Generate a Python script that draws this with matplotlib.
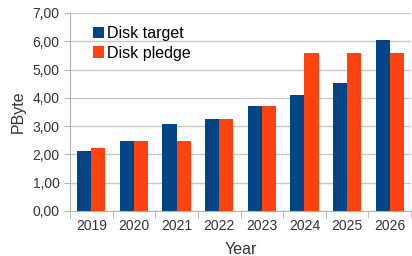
import matplotlib.pyplot as plt
import numpy as np

years = ["2019", "2020", "2021", "2022", "2023", "2024", "2025", "2026"]
disk_target = [2.12, 2.49, 3.06, 3.24, 3.72, 4.10, 4.54, 6.04]
disk_pledge = [2.23, 2.49, 2.49, 3.24, 3.72, 5.60, 5.60, 5.60]

plt.rcParams['font.family'] = ['Liberation Sans', 'DejaVu Sans']

fig = plt.figure(figsize=(4.12, 2.56), dpi=100)
ax = fig.add_axes([70/412, 1-211/256, 341/412, 198/256])

x = np.arange(len(years))
w = 0.33
ax.bar(x - w/2, disk_target, w, color='#004586', label='Disk target', zorder=2)
ax.bar(x + w/2, disk_pledge, w, color='#ff420e', label='Disk pledge', zorder=2)

ax.set_xlim(-0.5, len(years) - 0.5)
ax.set_ylim(0, 7)
ax.set_yticks(np.arange(0, 8, 1))
ax.set_yticklabels([f"{v:.2f}".replace('.', ',') for v in range(8)])
ax.set_xticks(x)
ax.set_xticklabels(years)
ax.set_xticks(np.arange(-0.5, len(years), 1), minor=True)
ax.tick_params(axis='x', which='major', length=0, labelsize=10, pad=6)
ax.tick_params(axis='x', which='minor', length=5, color='#b3b3b3')
ax.tick_params(axis='y', length=4, color='#b3b3b3', labelsize=10)
for lab in ax.get_yticklabels() + ax.get_xticklabels():
    lab.set_color('#333333')

ax.grid(True, axis='y', color='#c8c8c8', lw=1, zorder=0)
for s in ['top', 'right']:
    ax.spines[s].set_visible(False)
for s in ['left', 'bottom']:
    ax.spines[s].set_color('#b3b3b3')

ax.set_xlabel('Year', fontsize=11.5, color='#333333', labelpad=6)
ax.set_ylabel('PByte', fontsize=11.5, color='#333333', labelpad=5)

ax.legend(loc='upper left', frameon=False, fontsize=11.5, handlelength=0.7,
          handleheight=0.7, handletextpad=0.2, labelspacing=0.3,
          borderpad=0, borderaxespad=0, bbox_to_anchor=(0.067, 0.935))

fig.savefig('out.png', dpi=100)
